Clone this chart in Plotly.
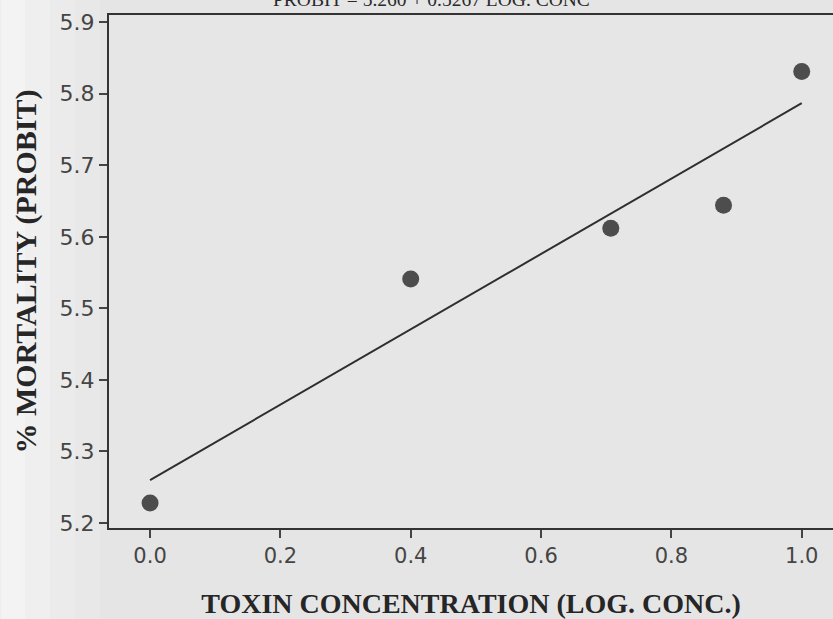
import plotly.graph_objects as go

# Observed probit mortality against log10 toxin concentration
log_conc = [0.0, 0.40, 0.707, 0.88, 1.0]
probit = [5.228, 5.541, 5.612, 5.644, 5.831]

# Fitted regression: PROBIT = 5.260 + 0.5267 LOG. CONC
intercept = 5.260
slope = 0.5267
fit_x = [0.0, 1.0]
fit_y = [intercept + slope * v for v in fit_x]

x_ticks = [0.0, 0.2, 0.4, 0.6, 0.8, 1.0]
y_ticks = [5.2, 5.3, 5.4, 5.5, 5.6, 5.7, 5.8, 5.9]

fig = go.Figure()

fig.add_trace(go.Scatter(
    x=fit_x, y=fit_y, mode="lines",
    line=dict(color="#2e2e2e", width=2),
    showlegend=False, hoverinfo="skip",
))
fig.add_trace(go.Scatter(
    x=log_conc, y=probit, mode="markers",
    marker=dict(size=17, color="#4d4d4d", line=dict(width=0)),
    showlegend=False,
))

# soft lighter band along the left edge of the page
shapes = []
band_steps = [(0.00, 0.03, 0.55), (0.03, 0.06, 0.40), (0.06, 0.09, 0.25),
              (0.09, 0.12, 0.12)]
for x0, x1, op in band_steps:
    shapes.append(dict(type="rect", xref="paper", yref="paper",
                       x0=x0 * 1.15 - 0.15, x1=x1 * 1.15 - 0.15, y0=-0.3, y1=1.1,
                       fillcolor="white", opacity=op, line=dict(width=0),
                       layer="below"))

fig.update_layout(
    width=833, height=619,
    margin=dict(l=109, r=0, t=15, b=91),
    paper_bgcolor="#e5e5e5",
    plot_bgcolor="#e6e6e6",
    shapes=shapes,
    annotations=[dict(
        text="PROBIT = 5.260 + 0.5267 LOG. CONC",
        xref="paper", yref="paper", x=0.445, y=1.0, yshift=3,
        xanchor="center", yanchor="bottom", showarrow=False,
        font=dict(family="Liberation Serif", size=19.5, color="#2a2a2a"),
    )],
)

fig.update_xaxes(
    range=[-0.063, 1.048],
    tickvals=x_ticks, ticktext=[f"{v:.1f}" for v in x_ticks],
    ticks="outside", ticklen=8, tickwidth=1.5, tickcolor="#444",
    showline=True, linecolor="#333", linewidth=2, mirror=True,
    showgrid=False, zeroline=False,
    tickfont=dict(family="DejaVu Sans", size=21, color="#454545"),
    title=dict(text="<b>TOXIN CONCENTRATION (LOG. CONC.)</b>", standoff=26,
               font=dict(family="Liberation Serif", size=28, color="#262626")),
)
fig.update_yaxes(
    range=[5.193, 5.91],
    tickvals=y_ticks, ticktext=[f"{v:.1f}" for v in y_ticks],
    ticks="outside", ticklen=8, tickwidth=1.5, tickcolor="#444",
    showline=True, linecolor="#333", linewidth=2,
    showgrid=False, zeroline=False,
    tickfont=dict(family="DejaVu Sans", size=22, color="#454545"),
    title=dict(text="<b>% MORTALITY (PROBIT)</b>", standoff=14,
               font=dict(family="Liberation Serif", size=30, color="#262626")),
)

fig.write_html("out.html")
